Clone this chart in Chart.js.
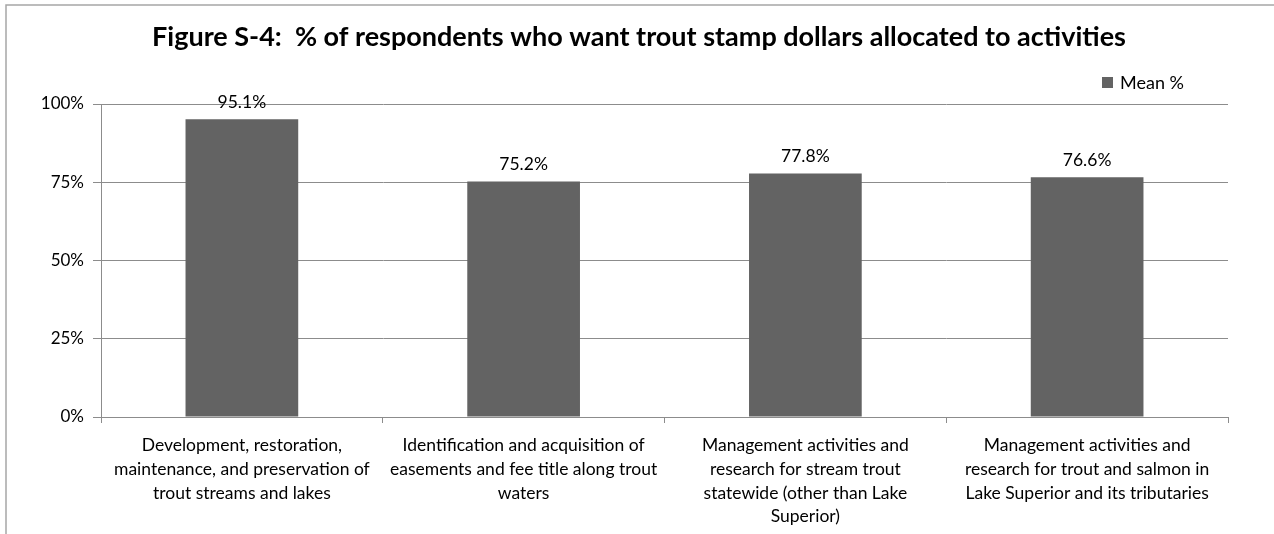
<!DOCTYPE html>
<html>
<head>
<meta charset="utf-8">
<script src="https://cdn.jsdelivr.net/npm/chart.js@4.4.0/dist/chart.umd.min.js"></script>
<style>
  body { margin: 0; background: #fff; }
  canvas { display: block; }
</style>
</head>
<body>
<canvas id="chart" width="1274" height="534"></canvas>
<script>
const titleText = "Figure S-4:  % of respondents who want trout stamp dollars allocated to activities";
const seriesName = "Mean %";
const categories = [
  ["Development, restoration,", "maintenance, and preservation of", "trout streams and lakes"],
  ["Identification and acquisition of", "easements and fee title along trout", "waters"],
  ["Management activities and", "research for stream trout", "statewide (other than Lake", "Superior)"],
  ["Management activities and", "research for trout and salmon in", "Lake Superior and its tributaries"]
];
const meanPct = [95.1, 75.2, 77.8, 76.6];
const yTicks = [0, 25, 50, 75, 100];

const FONT = "Lato";
const GRID = "#8c8c8c";
const BAR = "#636363";

// frame, title, legend and value labels
const extras = {
  id: "extras",
  beforeDraw(chart) {
    const c = chart.ctx;
    c.save();
    c.strokeStyle = "#a6a6a6";
    c.lineWidth = 1.5;
    c.beginPath();
    c.moveTo(6, 534);
    c.lineTo(6, 5);
    c.lineTo(1274, 5);
    c.stroke();
    c.restore();
  },
  afterDatasetsDraw(chart) {
    const c = chart.ctx;
    c.save();
    c.fillStyle = "#000";
    c.font = "bold 27px " + FONT;
    c.textAlign = "center";
    c.textBaseline = "middle";
    c.fillText(titleText, 639, 37);

    c.fillStyle = BAR;
    c.fillRect(1102, 77, 11, 11);
    c.fillStyle = "#000";
    c.font = "18px " + FONT;
    c.textAlign = "left";
    c.fillText(seriesName, 1120, 83);

    c.font = "17.5px " + FONT;
    c.textAlign = "center";
    const meta = chart.getDatasetMeta(0);
    meta.data.forEach((bar, i) => {
      c.fillText(meanPct[i].toFixed(1) + "%", bar.x, bar.y - 17);
    });
    c.restore();
  }
};

new Chart(document.getElementById("chart"), {
  type: "bar",
  data: {
    labels: categories,
    datasets: [{
      label: seriesName,
      data: meanPct,
      backgroundColor: BAR,
      borderWidth: 0,
      barPercentage: 0.4,
      categoryPercentage: 1.0
    }]
  },
  options: {
    responsive: false,
    animation: false,
    layout: { padding: { top: 104, right: 46, left: 0, bottom: 0 } },
    plugins: {
      legend: { display: false },
      title: { display: false },
      tooltip: { enabled: false }
    },
    scales: {
      x: {
        afterFit(scale) { scale.height = 117; },
        grid: { drawOnChartArea: false, color: GRID, tickLength: 6 },
        border: { color: GRID },
        ticks: {
          color: "#000",
          padding: 11,
          maxRotation: 0,
          autoSkip: false,
          font: { family: FONT, size: 17.5, lineHeight: 1.35 }
        }
      },
      y: {
        min: 0,
        max: 100,
        afterFit(scale) { scale.width = 101; },
        afterBuildTicks(scale) { scale.ticks = yTicks.map(v => ({ value: v })); },
        grid: { color: GRID, tickLength: 8 },
        border: { color: GRID },
        ticks: {
          color: "#000",
          padding: 9,
          font: { family: FONT, size: 17 },
          callback: v => v + "%"
        }
      }
    }
  },
  plugins: [extras]
});
</script>
</body>
</html>
